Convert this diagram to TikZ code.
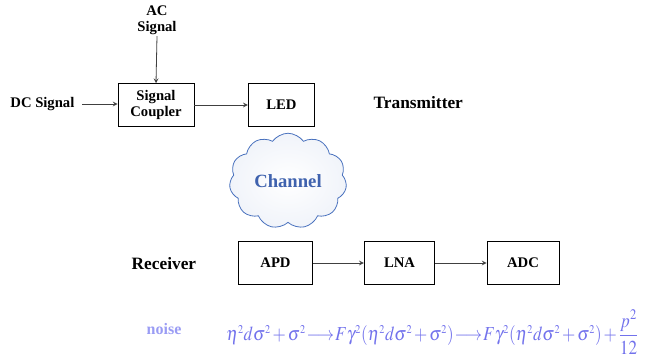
\documentclass[tikz,border=0pt]{standalone}
\usepackage{mathptmx}
\usepackage{fontspec}
\usepackage{graphicx}
\setmainfont{Liberation Serif}
\usetikzlibrary{shapes.symbols}

\definecolor{cloudline}{HTML}{4A72BE}
\definecolor{cloudtext}{HTML}{3F62AE}
\definecolor{noisecol}{HTML}{9A9CF4}
\definecolor{formcol}{HTML}{7272EC}

\newcommand{\sq}{^{\scriptscriptstyle 2}}

\begin{document}
\begin{tikzpicture}[x=0.75pt,y=-0.75pt]
\tikzstyle{every node}=[font=\bfseries\fontsize{11}{12}\selectfont]
\tikzstyle{block}=[draw, semithick, minimum height=32pt, inner sep=1pt, align=center]
\tikzstyle{link}=[->, >=stealth, semithick, draw=black!75]

% fix the page size
\useasboundingbox (0,0) rectangle (669,361);

% transmitter side
\node[block, minimum width=57pt] (coupler) at (156,105) {Signal\\Coupler};
\node[block, minimum width=50pt] (led) at (281.5,105) {LED};
\node[align=center, inner sep=1pt] (ac) at (157,20) {AC\\Signal};
\node[inner sep=1pt, anchor=east] (dc) at (76,104) {DC Signal};
\node[font=\bfseries\fontsize{13}{14}\selectfont, anchor=west] (tx) at (369,103) {Transmitter};

\draw[link] (ac.south) -- (coupler.north);
\draw[link] (dc.east) ++(6,0) coordinate (dcend) -- (dcend -| coupler.west);
\draw[link] (coupler) -- (led);

% channel cloud
\node[cloud, cloud puffs=11, cloud puff arc=110, aspect=1.3, draw=cloudline, semithick,
      inner color=white, outer color=cloudline!8,
      minimum width=88pt, minimum height=70pt,
      text=cloudtext, font=\bfseries\fontsize{14}{16}\selectfont] (chan) at (288,181) {Channel};

% receiver side
\node[font=\bfseries\fontsize{13}{14}\selectfont, anchor=west] (rx) at (127,264) {Receiver};
\node[block, minimum width=55pt] (apd) at (275.5,263) {APD};
\node[block, minimum width=53pt] (lna) at (399.5,263) {LNA};
\node[block, minimum width=54pt] (adc) at (523,263) {ADC};

\foreach \a/\b in {apd/lna, lna/adc}
  \draw[link] (\a) -- (\b);

% noise terms
\node[text=formcol, font=\fontsize{17}{20}\selectfont, anchor=west, inner sep=0pt] (form) at (226,332)
  {\resizebox*{309pt}{33pt}{\medmuskip=2mu\thickmuskip=1mu
   $\eta\sq d\sigma\sq+\sigma\sq\longrightarrow F\gamma\sq(\eta\sq d\sigma\sq+\sigma\sq)\longrightarrow F\gamma\sq(\eta\sq d\sigma\sq+\sigma\sq)+\displaystyle\frac{p^2}{12}$}};
\node[text=noisecol, font=\bfseries\fontsize{12}{14}\selectfont, anchor=west] (noise) at (142,329) {noise};

\end{tikzpicture}
\end{document}
